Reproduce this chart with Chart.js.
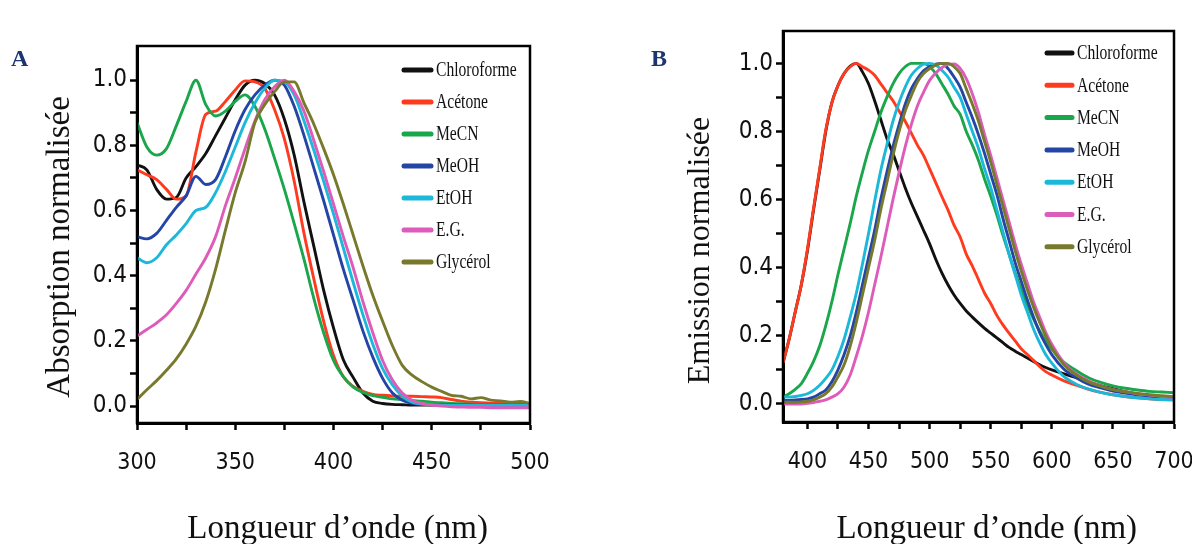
<!DOCTYPE html>
<html>
<head>
<meta charset="utf-8">
<script src="https://cdn.jsdelivr.net/npm/chart.js@4.4.1/dist/chart.umd.min.js"></script>
<style>
  html, body { margin: 0; padding: 0; background: #fff; width: 1192px; height: 544px; overflow: hidden; }
  .panel { position: absolute; top: 0; }
  .tag { position: absolute; font-family: 'Liberation Serif', serif; font-weight: bold; font-size: 24px; color: #1d356e; }
</style>
</head>
<body>
<div class="panel" style="left:0;width:560px;height:544px"><canvas id="absChart" width="560" height="544"></canvas></div>
<div class="panel" style="left:640px;width:552px;height:544px"><canvas id="emChart" width="552" height="544"></canvas></div>
<div class="tag" style="left:11px;top:45px">A</div>
<div class="tag" style="left:651px;top:45px">B</div>
<script>
// solvents and their colours
var solvents = ['Chloroforme', 'Acétone', 'MeCN', 'MeOH', 'EtOH', 'E.G.', 'Glycérol'];
var colors   = ['#111111', '#ff3b1f', '#1aa64b', '#2545a6', '#1cb8d9', '#de5cb9', '#77792d'];

// ---- panel A : absorption ----
var wlAbs = [300, 305, 310, 315, 320, 325, 330, 335, 340, 345, 350, 355, 360, 365, 370, 375, 380, 385, 390, 395,
             400, 405, 410, 415, 420, 425, 430, 435, 440, 445, 450, 455, 460, 465, 470, 475, 480, 485, 490, 495, 500];

var absChloroforme = [0.74, 0.725, 0.665, 0.635, 0.64, 0.70, 0.735, 0.775, 0.83, 0.885, 0.94, 0.985, 1.0, 0.99, 0.955, 0.88, 0.77, 0.625, 0.49, 0.355,
                      0.24, 0.142, 0.088, 0.04, 0.015, 0.008, 0.005, 0.004, 0.003, 0.003, 0.003, 0.003, 0.003, 0.003, 0.003, 0.003, 0.003, 0.003, 0.003, 0.003, 0.003];
var absAcetone     = [0.725, 0.71, 0.695, 0.665, 0.635, 0.645, 0.78, 0.895, 0.905, 0.935, 0.97, 0.998, 0.995, 0.975, 0.91, 0.82, 0.69, 0.53, 0.39, 0.26,
                      0.155, 0.09, 0.06, 0.045, 0.036, 0.033, 0.031, 0.03, 0.03, 0.029, 0.028, 0.026, 0.02, 0.015, 0.012, 0.01, 0.009, 0.008, 0.007, 0.006, 0.005];
var absMeCN        = [0.87, 0.795, 0.77, 0.79, 0.86, 0.935, 1.0, 0.925, 0.89, 0.905, 0.935, 0.955, 0.92, 0.85, 0.76, 0.665, 0.56, 0.45, 0.33, 0.225,
                      0.14, 0.09, 0.058, 0.042, 0.032, 0.027, 0.022, 0.02, 0.017, 0.015, 0.012, 0.01, 0.008, 0.007, 0.006, 0.005, 0.005, 0.004, 0.004, 0.004, 0.003];
var absMeOH        = [0.52, 0.513, 0.53, 0.57, 0.61, 0.645, 0.705, 0.68, 0.695, 0.765, 0.845, 0.91, 0.955, 0.985, 1.0, 0.985, 0.92, 0.83, 0.73, 0.63,
                      0.525, 0.42, 0.325, 0.23, 0.15, 0.085, 0.04, 0.018, 0.008, 0.005, 0.004, 0.004, 0.004, 0.004, 0.004, 0.003, 0.003, 0.003, 0.003, 0.003, 0.003];
var absEtOH        = [0.455, 0.44, 0.455, 0.495, 0.525, 0.56, 0.60, 0.61, 0.655, 0.72, 0.795, 0.87, 0.93, 0.975, 1.0, 0.995, 0.955, 0.875, 0.785, 0.69,
                      0.59, 0.485, 0.38, 0.28, 0.19, 0.115, 0.065, 0.03, 0.012, 0.006, 0.004, 0.003, 0.003, 0.003, 0.003, 0.002, 0.002, 0.002, 0.002, 0.002, 0.002];
var absEG          = [0.215, 0.235, 0.255, 0.28, 0.315, 0.355, 0.405, 0.455, 0.52, 0.615, 0.70, 0.79, 0.875, 0.94, 0.98, 1.0, 0.965, 0.905, 0.815, 0.72,
                      0.62, 0.52, 0.425, 0.32, 0.225, 0.14, 0.08, 0.04, 0.018, 0.008, 0.003, 0.0, -0.002, -0.003, -0.004, -0.004, -0.005, -0.005, -0.005, -0.005, -0.005];
var absGlycerol    = [0.02, 0.05, 0.078, 0.11, 0.145, 0.19, 0.245, 0.32, 0.42, 0.54, 0.655, 0.75, 0.87, 0.925, 0.965, 0.995, 0.995, 0.93, 0.865, 0.79,
                      0.71, 0.62, 0.525, 0.43, 0.34, 0.26, 0.185, 0.125, 0.095, 0.075, 0.058, 0.045, 0.033, 0.03, 0.022, 0.026, 0.018, 0.016, 0.012, 0.014, 0.008];

// ---- panel B : emission ----
var wlEm = [380, 385, 390, 395, 400, 405, 410, 415, 420, 425, 430, 435, 440, 445, 450, 455, 460, 465, 470, 475,
            480, 485, 490, 495, 500, 505, 510, 515, 520, 525, 530, 535, 540, 545, 550, 555, 560, 565, 570, 575,
            580, 585, 590, 595, 600, 610, 620, 630, 640, 650, 660, 670, 680, 690, 700];

var emChloroforme = [0.12, 0.19, 0.27, 0.35, 0.45, 0.57, 0.685, 0.8, 0.885, 0.935, 0.97, 0.992, 1.0, 0.975, 0.94, 0.89, 0.835, 0.78, 0.735, 0.685,
                     0.635, 0.59, 0.55, 0.51, 0.47, 0.425, 0.385, 0.35, 0.32, 0.295, 0.273, 0.255, 0.238, 0.222, 0.208, 0.194, 0.18, 0.166, 0.155, 0.145,
                     0.135, 0.125, 0.115, 0.107, 0.1, 0.088, 0.077, 0.065, 0.054, 0.045, 0.036, 0.029, 0.024, 0.02, 0.016];
var emAcetone     = [0.12, 0.19, 0.27, 0.35, 0.455, 0.575, 0.69, 0.805, 0.885, 0.935, 0.97, 0.99, 1.0, 0.99, 0.98, 0.965, 0.94, 0.915, 0.89, 0.86,
                     0.83, 0.795, 0.76, 0.73, 0.69, 0.65, 0.609, 0.57, 0.525, 0.49, 0.44, 0.405, 0.365, 0.325, 0.295, 0.26, 0.232, 0.208, 0.185, 0.162,
                     0.145, 0.128, 0.11, 0.095, 0.085, 0.068, 0.055, 0.043, 0.034, 0.027, 0.022, 0.018, 0.015, 0.013, 0.012];
var emMeCN        = [0.02, 0.03, 0.043, 0.06, 0.09, 0.125, 0.17, 0.23, 0.3, 0.38, 0.455, 0.53, 0.61, 0.68, 0.745, 0.8, 0.855, 0.9, 0.94, 0.97,
                     0.99, 1.0, 1.0, 1.0, 0.99, 0.97, 0.94, 0.91, 0.875, 0.85, 0.8, 0.76, 0.715, 0.66, 0.61, 0.555, 0.495, 0.44, 0.385, 0.335,
                     0.29, 0.25, 0.215, 0.185, 0.16, 0.122, 0.098, 0.077, 0.063, 0.053, 0.046, 0.041, 0.037, 0.035, 0.033];
var emMeOH        = [0.01, 0.01, 0.012, 0.013, 0.015, 0.02, 0.03, 0.041, 0.065, 0.1, 0.145, 0.2, 0.27, 0.35, 0.43, 0.51, 0.6, 0.68, 0.755, 0.82,
                     0.88, 0.925, 0.955, 0.978, 0.99, 0.998, 1.0, 0.985, 0.96, 0.93, 0.885, 0.84, 0.79, 0.735, 0.675, 0.615, 0.545, 0.48, 0.415, 0.36,
                     0.305, 0.255, 0.21, 0.175, 0.145, 0.102, 0.077, 0.058, 0.047, 0.038, 0.032, 0.027, 0.023, 0.02, 0.018];
var emEtOH        = [0.02, 0.02, 0.022, 0.025, 0.03, 0.04, 0.055, 0.075, 0.1, 0.14, 0.19, 0.255, 0.325, 0.41, 0.5, 0.595, 0.685, 0.76, 0.83, 0.885,
                     0.93, 0.965, 0.985, 0.998, 1.0, 0.995, 0.98, 0.96, 0.93, 0.9, 0.85, 0.8, 0.75, 0.69, 0.635, 0.57, 0.505, 0.44, 0.38, 0.32,
                     0.27, 0.22, 0.18, 0.145, 0.12, 0.08, 0.058, 0.044, 0.034, 0.027, 0.022, 0.018, 0.015, 0.013, 0.012];
var emEG          = [0.0, 0.0, 0.0, 0.0, 0.002, 0.004, 0.008, 0.012, 0.02, 0.03, 0.05, 0.085, 0.14, 0.2, 0.27, 0.35, 0.43, 0.515, 0.6, 0.68,
                     0.755, 0.82, 0.875, 0.915, 0.95, 0.972, 0.987, 0.997, 0.998, 0.985, 0.955, 0.91, 0.855, 0.79, 0.73, 0.665, 0.6, 0.535, 0.47, 0.41,
                     0.355, 0.3, 0.255, 0.21, 0.175, 0.12, 0.088, 0.068, 0.053, 0.043, 0.036, 0.03, 0.026, 0.022, 0.02];
var emGlycerol    = [0.005, 0.005, 0.005, 0.006, 0.008, 0.012, 0.02, 0.03, 0.05, 0.08, 0.115, 0.17, 0.24, 0.32, 0.4, 0.48, 0.57, 0.65, 0.73, 0.8,
                     0.86, 0.905, 0.945, 0.97, 0.985, 0.995, 1.0, 1.0, 0.99, 0.97, 0.925, 0.88, 0.83, 0.77, 0.71, 0.645, 0.58, 0.515, 0.45, 0.39,
                     0.335, 0.285, 0.24, 0.2, 0.165, 0.115, 0.085, 0.065, 0.052, 0.042, 0.036, 0.031, 0.027, 0.024, 0.021];

// tick positions
var xTicksAbs = [300, 325, 350, 375, 400, 425, 450, 475, 500];
var xTicksEm  = [400, 425, 450, 475, 500, 525, 550, 575, 600, 625, 650, 675, 700];
var yTicks    = [0, 0.1, 0.2, 0.3, 0.4, 0.5, 0.6, 0.7, 0.8, 0.9, 1.0];

var tickFont  = "'Liberation Sans Narrow', 'DejaVu Sans Condensed', 'Liberation Sans', sans-serif";
var serifFont = "'Liberation Serif', 'DejaVu Serif', serif";

function buildSets(xs, series) {
  return series.map(function(ys, i) {
    return {
      label: solvents[i],
      data: xs.map(function(x, k) { return { x: x, y: ys[k] }; }),
      borderColor: colors[i],
      backgroundColor: colors[i],
      borderWidth: 2.9,
      pointRadius: 0,
      fill: false,
      cubicInterpolationMode: 'monotone',
      order: -i
    };
  });
}

// box round the plot area
var framePlugin = {
  id: 'frame',
  afterDatasetsDraw: function(chart) {
    var a = chart.chartArea, ctx = chart.ctx;
    ctx.save();
    ctx.lineWidth = 2.5;
    ctx.strokeStyle = '#000';
    ctx.strokeRect(a.left, a.top, a.right - a.left, a.bottom - a.top);
    ctx.restore();
  }
};

// legend drawn inside the plot, top right
var legendPlugin = {
  id: 'insideLegend',
  afterDraw: function(chart, args, opts) {
    var ctx = chart.ctx;
    chart.data.datasets.forEach(function(ds, i) {
      var y = opts.top + i * opts.rowGap;
      ctx.save();
      ctx.strokeStyle = ds.borderColor;
      ctx.lineWidth = 5;
      ctx.lineCap = 'round';
      ctx.beginPath();
      ctx.moveTo(opts.left + 2, y);
      ctx.lineTo(opts.left + opts.lineLen - 2, y);
      ctx.stroke();
      ctx.fillStyle = '#111';
      ctx.font = '20px ' + serifFont;
      ctx.textBaseline = 'middle';
      ctx.translate(opts.left + opts.lineLen + 3, y + 1);
      ctx.scale(0.78, 1);
      ctx.fillText(ds.label, 0, 0);
      ctx.restore();
    });
  }
};

function noEdgePadding(s) {
  s.paddingLeft = 0; s.paddingRight = 0; s.paddingTop = 0; s.paddingBottom = 0;
}

function makeChart(id, xs, series, cfg) {
  var ctx = document.getElementById(id).getContext('2d');
  return new Chart(ctx, {
    type: 'line',
    data: { datasets: buildSets(xs, series) },
    plugins: [framePlugin, legendPlugin],
    options: {
      responsive: false,
      animation: false,
      layout: { padding: { left: 0, top: cfg.top, right: cfg.right, bottom: 0 } },
      plugins: {
        legend: { display: false },
        tooltip: { enabled: false },
        insideLegend: cfg.legend
      },
      scales: {
        x: {
          type: 'linear',
          min: cfg.xMin,
          max: cfg.xMax,
          afterBuildTicks: function(s) { s.ticks = cfg.xTicks.map(function(v) { return { value: v }; }); },
          afterFit: function(s) { s.height = cfg.xHeight; noEdgePadding(s); },
          grid: { drawOnChartArea: false, drawTicks: true, tickLength: 7, tickWidth: 2.5, tickColor: '#000' },
          border: { display: true, color: '#000', width: 3 },
          ticks: {
            autoSkip: false, maxRotation: 0, minRotation: 0, padding: 19, color: '#111',
            font: { family: tickFont, size: 23 },
            callback: function(v) { return v % 50 === 0 ? String(v) : ''; }
          },
          title: {
            display: true, text: cfg.xTitle, color: '#111',
            font: { family: serifFont, size: 33, lineHeight: 0.9 },
            padding: { top: 0, bottom: 0 }
          }
        },
        y: {
          type: 'linear',
          min: cfg.yMin,
          max: cfg.yMax,
          afterBuildTicks: function(s) { s.ticks = yTicks.map(function(v) { return { value: v }; }); },
          afterFit: function(s) { s.width = cfg.yWidth; noEdgePadding(s); },
          grid: { drawOnChartArea: false, drawTicks: true, tickLength: 7, tickWidth: 2.5, tickColor: '#000' },
          border: { display: true, color: '#000', width: 3 },
          ticks: {
            autoSkip: false, padding: 3, color: '#111',
            font: { family: tickFont, size: 24 },
            callback: function(v) { return Math.round(v * 10) % 2 === 0 ? v.toFixed(1) : ''; }
          },
          title: {
            display: true, text: cfg.yTitle, color: '#111',
            font: { family: serifFont, size: cfg.yTitleSize, lineHeight: 1 },
            padding: { top: cfg.yTitlePad, bottom: 0 }
          }
        }
      }
    }
  });
}

makeChart('absChart', wlAbs,
  [absChloroforme, absAcetone, absMeCN, absMeOH, absEtOH, absEG, absGlycerol],
  {
    xMin: 300, xMax: 500, yMin: -0.052, yMax: 1.105, xTicks: xTicksAbs,
    top: 46, right: 30, xHeight: 121, yWidth: 137,
    xTitle: '\u00a0Longueur d’onde (nm)',
    yTitle: 'Absorption normalisée\u00a0\u00a0\u00a0', yTitleSize: 33, yTitlePad: 44,
    legend: { left: 402, top: 70, rowGap: 32, lineLen: 31 }
  });

makeChart('emChart', wlEm,
  [emChloroforme, emAcetone, emMeCN, emMeOH, emEtOH, emEG, emGlycerol],
  {
    xMin: 380, xMax: 700, yMin: -0.053, yMax: 1.095, xTicks: xTicksEm,
    top: 31, right: 18, xHeight: 122, yWidth: 143,
    xTitle: '\u00a0\u00a0Longueur d’onde (nm)',
    yTitle: 'Emission normalisée\u00a0\u00a0\u00a0\u00a0\u00a0\u00a0', yTitleSize: 32, yTitlePad: 45,
    legend: { left: 405, top: 53, rowGap: 32.3, lineLen: 29 }
  });
</script>
</body>
</html>
